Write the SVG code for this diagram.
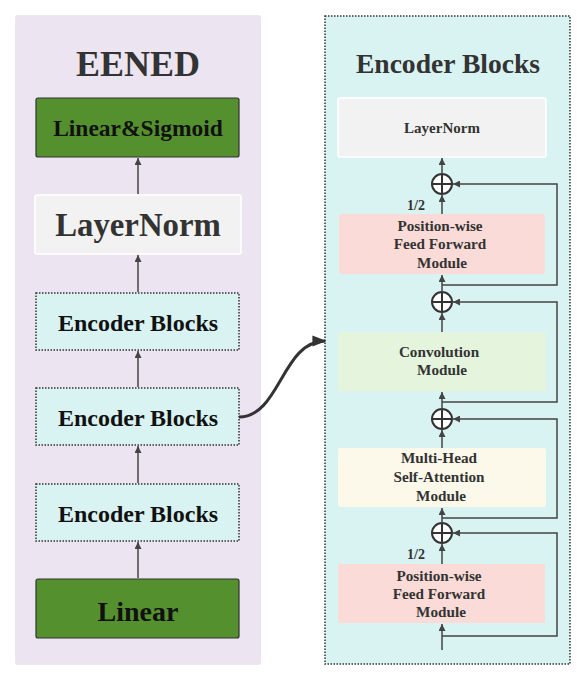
<svg xmlns="http://www.w3.org/2000/svg" width="582" height="678" viewBox="0 0 582 678">
<defs>
<style>
.t{font-family:"Liberation Serif","Times New Roman",serif;font-weight:bold;text-anchor:middle}
.ln{fill:none;stroke:#444;stroke-width:1.5}
.green{fill:#55902f;stroke:#333;stroke-width:1.2}
.norm{fill:#f2f2f2;stroke:#fff;stroke-width:1.5}
.enc{fill:#d9f3f2;stroke:#333;stroke-width:1.5;stroke-dasharray:1.5 1.5}
.plus{fill:#fff;stroke:#333;stroke-width:2}
</style>
<marker id="ah" viewBox="0 0 10 10" refX="10" refY="5" markerWidth="7" markerHeight="7" markerUnits="userSpaceOnUse" orient="auto"><path d="M0,0 L10,5 L0,10 z" fill="#444"/></marker>
<marker id="ah2" viewBox="0 0 10 10" refX="9" refY="5" markerWidth="14" markerHeight="14" markerUnits="userSpaceOnUse" orient="auto"><path d="M0,1 L10,5 L0,9 z" fill="#333"/></marker>
</defs>
<rect id="eened-panel" x="15" y="15" width="246" height="650" rx="3" fill="#ede4f1"/>
<rect id="encoder-panel" x="325" y="16" width="245" height="648" class="enc"/>
<g id="titles">
<text class="t" x="138" y="76" font-size="36" fill="#333">EENED</text>
<text class="t" x="448" y="73" font-size="27.6" fill="#333">Encoder Blocks</text>
</g>
<g id="linear-sigmoid"><rect x="36" y="98" width="203" height="59" rx="2" class="green"/><text class="t" x="138" y="136" font-size="23.5" fill="#111">Linear&amp;Sigmoid</text></g>
<g id="layernorm-left"><rect x="35" y="195" width="206" height="59" rx="2" class="norm"/><text class="t" x="138" y="236" font-size="32.8" fill="#333">LayerNorm</text></g>
<g id="enc1"><rect x="36" y="293" width="203" height="57" class="enc"/><text class="t" x="138" y="331" font-size="24" fill="#111">Encoder Blocks</text></g>
<g id="enc2"><rect x="36" y="388" width="203" height="57" class="enc"/><text class="t" x="138" y="426" font-size="24" fill="#111">Encoder Blocks</text></g>
<g id="enc3"><rect x="36" y="484" width="203" height="57" class="enc"/><text class="t" x="138" y="522" font-size="24" fill="#111">Encoder Blocks</text></g>
<g id="linear"><rect x="36" y="579" width="203" height="59" rx="2" class="green"/><text class="t" x="138" y="621" font-size="28" fill="#111">Linear</text></g>

<g id="layernorm-right"><rect x="338" y="98" width="208" height="59" rx="2" class="norm"/><text class="t" x="442" y="133" font-size="15" fill="#333">LayerNorm</text></g>
<g id="ffn-top"><rect x="339" y="214" width="206" height="60" rx="2" fill="#fadbd8"/>
<text class="t" x="440" y="231" font-size="15.2" fill="#333">Position-wise</text>
<text class="t" x="440" y="249" font-size="15.2" fill="#333">Feed Forward</text>
<text class="t" x="442" y="268" font-size="15.2" fill="#333">Module</text></g>
<g id="conv"><rect x="338" y="332" width="208" height="59" rx="2" fill="#e5f5dd"/>
<text class="t" x="439" y="357" font-size="15.2" fill="#333">Convolution</text>
<text class="t" x="442" y="375" font-size="15.2" fill="#333">Module</text></g>
<g id="mhsa"><rect x="338" y="448" width="208" height="59" rx="2" fill="#fcf8ea"/>
<text class="t" x="439" y="463" font-size="15.2" fill="#333">Multi-Head</text>
<text class="t" x="439" y="482" font-size="15.2" fill="#333">Self-Attention</text>
<text class="t" x="441" y="501" font-size="15.2" fill="#333">Module</text></g>
<g id="ffn-bottom"><rect x="338" y="564" width="207" height="59" rx="2" fill="#fadbd8"/>
<text class="t" x="439" y="581" font-size="15.2" fill="#333">Position-wise</text>
<text class="t" x="439" y="599" font-size="15.2" fill="#333">Feed Forward</text>
<text class="t" x="441" y="617" font-size="15.2" fill="#333">Module</text></g>
<g id="labels">
<text class="t" x="416" y="210" font-size="14" fill="#333">1/2</text>
<text class="t" x="416" y="559" font-size="14" fill="#333">1/2</text>
</g>
<g id="adders">
<g id="add1"><circle cx="442" cy="184" r="10" class="plus"/><path d="M432,184H452M442,174V194" stroke="#333" stroke-width="2"/></g>
<g id="add2"><circle cx="442" cy="302" r="10" class="plus"/><path d="M432,302H452M442,292V312" stroke="#333" stroke-width="2"/></g>
<g id="add3"><circle cx="442" cy="419" r="10" class="plus"/><path d="M432,419H452M442,409V429" stroke="#333" stroke-width="2"/></g>
<g id="add4"><circle cx="442" cy="533" r="10" class="plus"/><path d="M432,533H452M442,523V543" stroke="#333" stroke-width="2"/></g>
</g>
<g id="connectors">
<line x1="138" y1="194" x2="138" y2="158" class="ln" marker-end="url(#ah)"/>
<line x1="138" y1="292" x2="138" y2="255" class="ln" marker-end="url(#ah)"/>
<line x1="138" y1="387" x2="138" y2="351" class="ln" marker-end="url(#ah)"/>
<line x1="138" y1="483" x2="138" y2="446" class="ln" marker-end="url(#ah)"/>
<line x1="138" y1="578" x2="138" y2="542" class="ln" marker-end="url(#ah)"/>
<path d="M239,417 C280,417 282,341 325,341" fill="none" stroke="#333" stroke-width="3" marker-end="url(#ah2)"/>

<line x1="442" y1="174" x2="442" y2="158" class="ln" marker-end="url(#ah)"/>
<line x1="442" y1="214" x2="442" y2="195" class="ln" marker-end="url(#ah)"/>
<line x1="442" y1="292" x2="442" y2="275" class="ln" marker-end="url(#ah)"/>
<line x1="442" y1="332" x2="442" y2="313" class="ln" marker-end="url(#ah)"/>
<line x1="442" y1="409" x2="442" y2="392" class="ln" marker-end="url(#ah)"/>
<line x1="442" y1="448" x2="442" y2="430" class="ln" marker-end="url(#ah)"/>
<line x1="442" y1="523" x2="442" y2="508" class="ln" marker-end="url(#ah)"/>
<line x1="442" y1="564" x2="442" y2="544" class="ln" marker-end="url(#ah)"/>
<line x1="442" y1="650" x2="442" y2="624" class="ln" marker-end="url(#ah)"/>

<path d="M442,285 H557 V184 H453" class="ln" marker-end="url(#ah)"/>
<path d="M442,402 H557 V302 H453" class="ln" marker-end="url(#ah)"/>
<path d="M442,518 H557 V419 H453" class="ln" marker-end="url(#ah)"/>
<path d="M442,636 H557 V533 H453" class="ln" marker-end="url(#ah)"/>
</g>
</svg>
